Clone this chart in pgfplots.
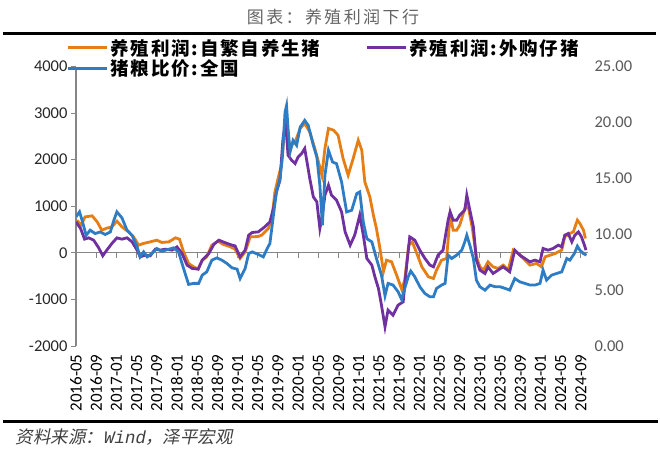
\documentclass[border=0pt]{standalone}
\usepackage{fontspec}
\usepackage{pgfplots}
\pgfplotsset{compat=1.18}
\setmainfont{Carlito}
\newfontfamily\cjkleg{Noto Sans CJK SC}[LetterSpace=10]
\newfontfamily\cjktitle{Noto Sans CJK SC}[LetterSpace=14]
\newfontfamily\cjksrc{Noto Sans CJK SC}[FakeSlant=0.2]
\newfontfamily\srcmono{Liberation Mono}[FakeSlant=0.2]
\definecolor{corange}{RGB}{229,126,20}
\definecolor{cpurple}{RGB}{112,48,160}
\definecolor{cblue}{RGB}{46,124,196}
\definecolor{axisgray}{RGB}{134,134,134}
\definecolor{leftcol}{RGB}{40,40,40}
\definecolor{rightcol}{RGB}{89,89,89}
\definecolor{titlegray}{RGB}{100,100,100}
\definecolor{srcgray}{RGB}{64,64,64}
\begin{document}
\begin{tikzpicture}[x=1pt,y=1pt]
\path[use as bounding box] (0,0) rectangle (660,448);
\node[text=titlegray, font=\cjktitle\fontsize{17}{17}\selectfont] at (333,431) {图表：养殖利润下行};
\draw[line width=3pt] (3,414) -- (656,414);
\draw[line width=3pt] (3,26.3) -- (658,26.3);
\node[anchor=west, text=srcgray, font=\cjksrc\fontsize{17.5}{17.5}\selectfont] at (12,11) {资料来源：{\srcmono Wind}，泽平宏观};
\begin{axis}[
  at={(76pt,102pt)}, anchor=south west, scale only axis,
  width=515pt, height=279.5pt,
  xmin=0, xmax=102, ymin=-2000, ymax=4000,
  axis y line*=left, axis x line*=bottom,
  x axis line style={draw=none},
  y axis line style={draw=axisgray, line width=1.2pt, -},
  ytick={-2000,-1000,0,1000,2000,3000,4000},
  tick align=outside,
  ytick style={draw=axisgray, line width=1pt},
  major tick length=5pt,
  xtick style={draw=none},
  xtick={0,4,...,100},
  xticklabels={2016-05,2016-09,2017-01,2017-05,2017-09,2018-01,2018-05,2018-09,2019-01,2019-05,2019-09,2020-01,2020-05,2020-09,2021-01,2021-05,2021-09,2022-01,2022-05,2022-09,2023-01,2023-05,2023-09,2024-01,2024-05,2024-09},
  xticklabel style={rotate=90, anchor=east, font=\fontsize{17}{17}\selectfont, text=black},
  yticklabel style={font=\fontsize{16.5}{16.5}\selectfont, text=leftcol},
  /pgf/number format/assume math mode=true,
  /pgf/number format/1000 sep={},
  legend columns=2,
  legend cell align=left,
  legend style={at={(-0.019,1.106)}, anchor=north west, draw=none, fill=none,
    font=\cjkleg\bfseries\fontsize{18.5}{19}\selectfont,
    /tikz/every even column/.append style={column sep=43pt},
    row sep=-1pt, inner sep=0pt},
  legend image code/.code={\draw[#1, line width=3pt] (0pt,0pt) -- (39pt,0pt);},
]
\draw[axisgray, line width=1.2pt] (axis cs:0,0) -- (axis cs:101.5,0);
\pgfplotsinvokeforeach{4,8,...,100}{\draw[axisgray, line width=1pt] (axis cs:#1,0) -- ++(0pt,-5pt);}
\addplot[corange, line width=2.8pt] coordinates {
(0.2,700)(1.0,600)(1.8,772)(3.2,794)(4.2,665)(5.1,487)(6.1,530)(7.1,558)(8.1,680)(9.1,558)(10.4,450)(11.4,343)(12.4,165)(13.3,200)(14.7,236)(16.0,272)(17.0,223)(18.4,236)(19.7,322)(20.5,294)(21.3,21)(22.3,-227)(23.3,-300)(24.2,-350)(25.0,-157)(25.9,-86)(26.9,165)(28.1,251)(29.2,180)(30.6,129)(31.5,79)(32.5,-120)(33.5,21)(34.5,343)(36.0,350)(36.8,380)(38.1,523)(38.8,738)(39.4,1309)(40.1,1631)(40.7,1882)(41.2,2526)(41.6,2650)(42.4,2275)(43.4,2382)(44.4,2669)(45.3,2777)(46.3,2597)(47.3,2240)(48.1,1918)(48.7,1667)(49.3,2240)(50.0,2669)(51.0,2633)(51.9,2526)(52.9,2026)(53.9,1667)(54.9,2026)(55.9,2418)(56.6,2204)(57.2,1524)(58.2,1202)(58.9,809)(59.5,523)(60.2,94)(60.9,-400)(61.5,-157)(62.5,-193)(63.5,-479)(64.5,-780)(65.1,-586)(65.9,165)(66.6,236)(67.5,-14)(68.5,-300)(69.8,-515)(70.8,-550)(71.4,-371)(72.4,-157)(73.4,-120)(74.1,809)(74.7,487)(75.4,487)(76.0,594)(77.0,952)(77.7,987)(78.5,523)(79.3,-86)(80.0,-300)(80.7,-371)(81.6,-193)(82.6,-300)(83.6,-335)(84.6,-264)(85.6,-371)(86.6,58)(87.6,-14)(88.6,-120)(89.9,-264)(91.2,-228)(92.2,-300)(92.9,-86)(93.9,-50)(94.9,-14)(96.2,58)(96.8,343)(97.8,415)(98.5,450)(99.3,702)(99.8,630)(100.5,487)(100.9,309)
};
\addlegendentry{养殖利润:自繁自养生猪}
\addplot[cpurple, line width=2.8pt] coordinates {
(0,665)(0.9,523)(1.7,294)(2.5,322)(3.5,272)(4.5,107)(5.3,-64)(6.1,58)(7.1,200)(8.1,322)(9.1,294)(10.1,322)(11.1,236)(12.1,58)(12.7,-86)(13.7,-50)(14.7,-64)(15.7,79)(16.7,58)(17.7,79)(19.0,58)(20.0,129)(21.0,-14)(22.0,-264)(23.0,-335)(24.2,-350)(25.0,-157)(26.3,-14)(27.3,180)(28.3,272)(29.6,215)(30.9,165)(31.5,150)(32.5,-86)(33.5,58)(34.2,380)(34.9,437)(36.1,450)(37.4,558)(38.4,665)(39.1,952)(39.7,1309)(40.4,1560)(41.0,2455)(41.5,2812)(42.0,2096)(42.7,1989)(43.4,1918)(44.0,2060)(44.7,2133)(45.3,2240)(46.3,1596)(47.0,1202)(47.7,1094)(48.3,523)(48.8,809)(49.3,1238)(50.0,1453)(50.6,1238)(51.6,1131)(52.6,880)(53.3,450)(54.3,165)(55.2,380)(56.2,809)(56.9,380)(57.6,-120)(58.6,-264)(59.2,-515)(59.9,-764)(60.5,-1122)(61.2,-1587)(61.8,-1229)(62.8,-1337)(63.8,-1122)(64.8,-1051)(65.5,-264)(66.1,343)(67.1,272)(68.1,58)(69.1,-120)(70.1,-264)(70.8,-300)(71.7,-50)(72.7,58)(73.7,702)(74.1,880)(74.7,702)(75.4,702)(76.0,809)(77.0,916)(77.4,1238)(77.8,1024)(78.7,558)(79.3,-157)(80.0,-371)(81.0,-443)(81.6,-300)(82.6,-443)(83.6,-371)(84.6,-300)(85.9,-407)(86.9,58)(87.9,-50)(88.9,-120)(89.9,-193)(90.9,-157)(91.9,-193)(92.5,94)(93.5,58)(94.5,94)(95.5,165)(96.2,129)(96.8,380)(97.5,415)(98.2,236)(98.8,380)(99.5,450)(100.1,343)(100.7,165)(101.0,58)
};
\addlegendentry{养殖利润:外购仔猪}
\addlegendimage{cblue, line width=2.8pt}
\addlegendentry{猪粮比价:全国}
\end{axis}
\begin{axis}[
  at={(76pt,102pt)}, anchor=south west, scale only axis,
  width=515pt, height=279.5pt,
  xmin=0, xmax=102, ymin=0, ymax=25,
  axis y line*=right, axis x line=none,
  y axis line style={draw=none},
  ytick={0,5,10,15,20,25},
  major tick length=0pt,
  yticklabel style={font=\fontsize{16.5}{16.5}\selectfont, text=rightcol},
  /pgf/number format/assume math mode=true,
  /pgf/number format/.cd, fixed, fixed zerofill, precision=2,
]
\addplot[cblue, line width=2.8pt] coordinates {
(0,11.55)(0.7,12.0)(1.3,11.1)(2.0,9.9)(2.8,10.36)(3.8,10.06)(4.8,10.2)(5.8,9.97)(6.8,10.2)(7.5,11.25)(8.1,12.0)(9.1,11.46)(10.1,10.36)(11.1,9.9)(12.1,8.87)(12.7,7.97)(13.4,8.42)(14.1,7.97)(15.0,8.27)(16.0,8.72)(17.0,8.48)(18.4,8.66)(19.3,8.78)(20.3,8.42)(21.3,6.94)(22.3,5.51)(23.3,5.6)(24.3,5.6)(25.0,6.34)(25.9,6.63)(26.9,7.68)(27.9,7.88)(28.9,7.68)(29.9,7.38)(30.9,6.99)(31.9,6.88)(32.5,6.04)(33.5,6.94)(34.2,8.27)(34.9,8.42)(36.1,8.19)(37.1,7.97)(37.8,8.66)(38.4,9.17)(39.1,11.7)(39.7,13.78)(40.4,14.97)(40.9,17.05)(41.4,20.92)(41.7,21.5)(42.0,19.44)(42.4,17.35)(43.0,18.4)(43.7,17.95)(44.4,19.58)(45.3,20.18)(46.0,19.73)(47.0,17.95)(47.7,16.9)(48.3,14.37)(48.8,10.8)(49.3,15.27)(50.0,17.5)(50.8,16.46)(51.6,16.31)(52.6,14.67)(53.6,11.99)(54.6,12.14)(55.6,13.63)(56.2,13.78)(56.9,11.1)(57.6,9.6)(58.6,9.31)(59.5,7.83)(60.5,6.34)(61.2,4.5)(61.8,5.6)(62.8,5.45)(63.8,4.85)(64.5,4.15)(65.1,5.15)(65.8,6.19)(66.3,6.7)(67.1,6.19)(68.1,5.3)(69.1,4.7)(70.1,4.4)(70.8,4.4)(71.4,5.15)(72.4,5.45)(73.1,5.6)(73.7,8.13)(74.4,7.83)(75.4,8.13)(76.4,8.57)(77.0,9.31)(77.4,9.91)(78.0,9.02)(78.7,7.83)(79.3,5.89)(80.0,5.3)(81.0,5.0)(82.0,5.45)(83.0,5.3)(84.0,5.3)(85.0,5.15)(85.9,5.0)(86.9,6.04)(87.9,5.74)(88.9,5.6)(89.9,5.45)(90.9,5.45)(91.9,5.6)(92.5,6.79)(93.2,5.89)(94.2,6.34)(95.2,6.49)(96.2,6.63)(97.2,7.83)(97.8,7.68)(98.7,8.27)(99.3,8.93)(99.8,8.57)(100.5,8.27)(101.1,8.13)
};
\end{axis}
\end{tikzpicture}
\end{document}
